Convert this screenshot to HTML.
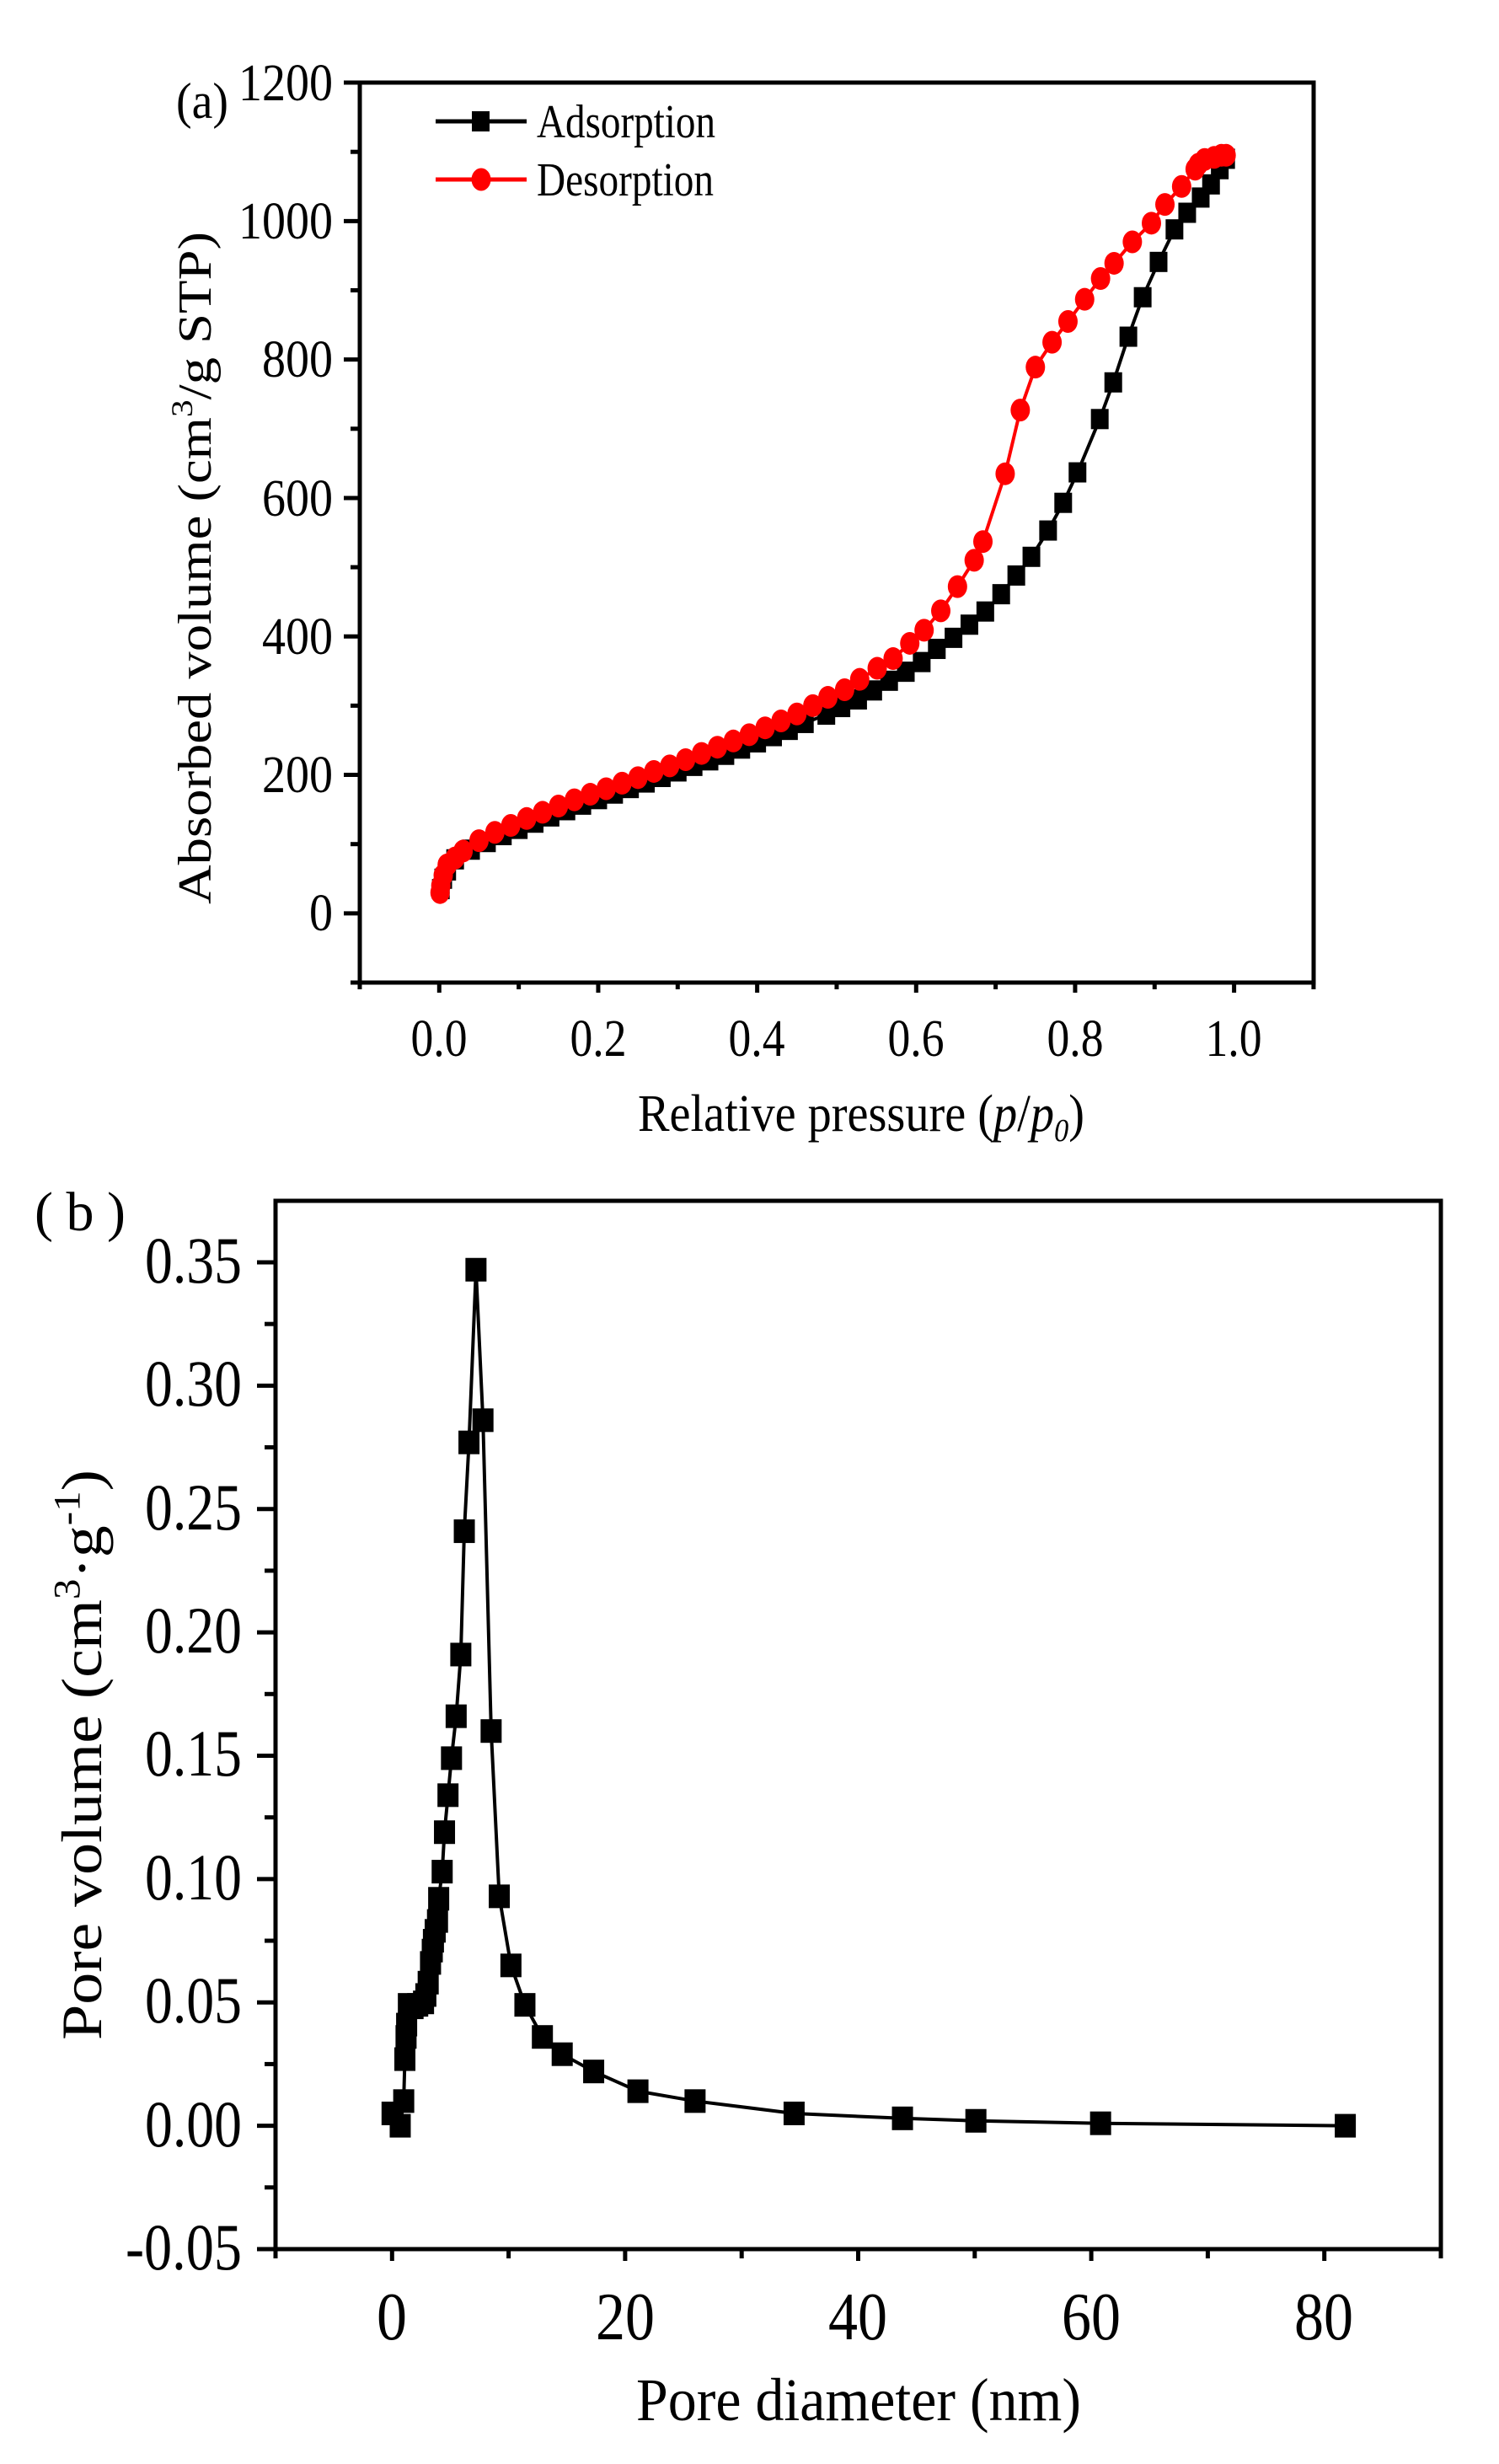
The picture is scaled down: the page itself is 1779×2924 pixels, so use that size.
<!DOCTYPE html>
<html><head><meta charset="utf-8"><style>html,body{margin:0;padding:0;background:#fff}svg{display:block}</style></head>
<body>
<svg id="s" width="1779" height="2924" viewBox="0 0 1779 2924" xmlns="http://www.w3.org/2000/svg" font-family="Liberation Serif, serif">
<rect width="1779" height="2924" fill="#fff"/>
<g id="ga"></g>
<g id="gb"></g>
<rect x="427" y="98" width="1132" height="1068" fill="none" stroke="#000" stroke-width="5"/>
<rect x="327" y="1425" width="1383" height="1244" fill="none" stroke="#000" stroke-width="5"/>
<g fill="#000">
<text x="209" y="140" font-size="60" textLength="62" lengthAdjust="spacingAndGlyphs">(a)</text>
<g font-size="62" text-anchor="end">
<text x="395" y="119" textLength="112" lengthAdjust="spacingAndGlyphs">1200</text>
<text x="395" y="283" textLength="112" lengthAdjust="spacingAndGlyphs">1000</text>
<text x="395" y="447" textLength="84" lengthAdjust="spacingAndGlyphs">800</text>
<text x="395" y="612" textLength="84" lengthAdjust="spacingAndGlyphs">600</text>
<text x="395" y="776" textLength="84" lengthAdjust="spacingAndGlyphs">400</text>
<text x="395" y="940" textLength="84" lengthAdjust="spacingAndGlyphs">200</text>
<text x="395" y="1104" textLength="28" lengthAdjust="spacingAndGlyphs">0</text>
</g>
<g font-size="62" text-anchor="middle">
<text x="521" y="1253" textLength="67" lengthAdjust="spacingAndGlyphs">0.0</text>
<text x="710" y="1253" textLength="67" lengthAdjust="spacingAndGlyphs">0.2</text>
<text x="898" y="1253" textLength="67" lengthAdjust="spacingAndGlyphs">0.4</text>
<text x="1087" y="1253" textLength="67" lengthAdjust="spacingAndGlyphs">0.6</text>
<text x="1276" y="1253" textLength="67" lengthAdjust="spacingAndGlyphs">0.8</text>
<text x="1464" y="1253" textLength="67" lengthAdjust="spacingAndGlyphs">1.0</text>
</g>
<text transform="translate(250,1073) rotate(-90)" font-size="56" textLength="798" lengthAdjust="spacingAndGlyphs">Absorbed volume (cm<tspan font-size="36" dy="-22">3</tspan><tspan dy="22">/g STP)</tspan></text>
<text x="757" y="1342" font-size="62" textLength="530" lengthAdjust="spacingAndGlyphs">Relative pressure (<tspan font-style="italic">p</tspan>/<tspan font-style="italic">p</tspan><tspan font-style="italic" font-size="38" dy="12">0</tspan><tspan dy="-12">)</tspan></text>
<text x="637" y="163" font-size="56" textLength="212" lengthAdjust="spacingAndGlyphs">Adsorption</text>
<text x="637" y="232" font-size="56" textLength="210" lengthAdjust="spacingAndGlyphs">Desorption</text>
<text x="41" y="1460" font-size="66" textLength="108" lengthAdjust="spacing">( b )</text>
<g font-size="78" text-anchor="end">
<text x="287" y="1522" textLength="115" lengthAdjust="spacingAndGlyphs">0.35</text>
<text x="287" y="1668" textLength="115" lengthAdjust="spacingAndGlyphs">0.30</text>
<text x="287" y="1815" textLength="115" lengthAdjust="spacingAndGlyphs">0.25</text>
<text x="287" y="1961" textLength="115" lengthAdjust="spacingAndGlyphs">0.20</text>
<text x="287" y="2107" textLength="115" lengthAdjust="spacingAndGlyphs">0.15</text>
<text x="287" y="2254" textLength="115" lengthAdjust="spacingAndGlyphs">0.10</text>
<text x="287" y="2400" textLength="115" lengthAdjust="spacingAndGlyphs">0.05</text>
<text x="287" y="2547" textLength="115" lengthAdjust="spacingAndGlyphs">0.00</text>
<text x="287" y="2693" textLength="138" lengthAdjust="spacingAndGlyphs">-0.05</text>
</g>
<g font-size="80" text-anchor="middle">
<text x="465" y="2776" textLength="36" lengthAdjust="spacingAndGlyphs">0</text>
<text x="742" y="2776" textLength="70" lengthAdjust="spacingAndGlyphs">20</text>
<text x="1018" y="2776" textLength="70" lengthAdjust="spacingAndGlyphs">40</text>
<text x="1295" y="2776" textLength="70" lengthAdjust="spacingAndGlyphs">60</text>
<text x="1571" y="2776" textLength="70" lengthAdjust="spacingAndGlyphs">80</text>
</g>
<text transform="translate(120,2421) rotate(-90)" font-size="68" textLength="677" lengthAdjust="spacingAndGlyphs">Pore volume (cm<tspan font-size="44" dy="-26">3</tspan><tspan dy="26">·g</tspan><tspan font-size="44" dy="-26">-1</tspan><tspan dy="26">)</tspan></text>
<text x="755" y="2872" font-size="72" textLength="528" lengthAdjust="spacingAndGlyphs">Pore diameter (nm)</text>
</g>
<line x1="517" y1="144" x2="625" y2="144" stroke="#000" stroke-width="5"/>
<rect x="560" y="132" width="21" height="24" fill="#000"/>
<line x1="517" y1="213" x2="625" y2="213" stroke="#f00" stroke-width="5"/>
<ellipse cx="571" cy="213" rx="11.5" ry="13.5" fill="#f00"/>
<script>
(function(){
var NS="http://www.w3.org/2000/svg";
function el(p,n,a){var e=document.createElementNS(NS,n);for(var k in a)e.setAttribute(k,a[k]);p.appendChild(e);return e;}
var ga=document.getElementById('ga'),gb=document.getElementById('gb');
function ax(x){return 521.3+(x)*943.3;} function ay(y){return 1166-(y+100)*0.8215;}
for(var v=-100;v<=1200;v+=100){var y=ay(v);el(ga,'line',{x1:427,x2:v%200==0?408:416,y1:y,y2:y,stroke:'#000','stroke-width':5});}
for(var i=-1;i<=11;i++){var x=ax(i/10);el(ga,'line',{x1:x,x2:x,y1:1166,y2:i%2==0?1178:1174,stroke:'#000','stroke-width':5});}
var ads=[[0.002,35],[0.005,50],[0.01,62],[0.02,78],[0.04,92],[0.06,103],[0.08,113],[0.1,122],[0.12,131],[0.14,140],[0.16,149],[0.18,157],[0.2,165],[0.22,173],[0.24,181],[0.26,189],[0.28,197],[0.3,205],[0.32,213],[0.34,221],[0.36,229],[0.38,238],[0.4,247],[0.42,256],[0.44,265],[0.46,275],[0.487,287],[0.506,298],[0.527,309],[0.546,322],[0.566,336],[0.587,349],[0.607,363],[0.626,382],[0.647,398],[0.667,417],[0.687,436],[0.707,461],[0.726,488],[0.745,515],[0.766,553],[0.785,593],[0.803,637],[0.831,714],[0.848,767],[0.867,833],[0.885,890],[0.905,941],[0.925,988],[0.941,1012],[0.958,1034],[0.971,1053],[0.982,1075],[0.99,1090]];
var des=[[0.99,1095],[0.984,1095],[0.975,1092],[0.963,1089],[0.955,1082],[0.951,1075],[0.934,1050],[0.913,1024],[0.896,997],[0.872,970],[0.849,939],[0.832,917],[0.812,887],[0.791,855],[0.771,825],[0.75,789],[0.731,727],[0.712,635],[0.684,537],[0.673,510],[0.652,472],[0.631,437],[0.61,409],[0.592,390],[0.571,368],[0.551,354],[0.529,338],[0.51,323],[0.489,312],[0.47,300],[0.45,288],[0.43,278],[0.41,268],[0.39,258],[0.37,249],[0.35,240],[0.33,231],[0.31,222],[0.29,213],[0.27,205],[0.25,196],[0.23,188],[0.21,180],[0.19,172],[0.17,164],[0.15,155],[0.13,146],[0.11,137],[0.09,127],[0.07,117],[0.05,105],[0.03,90],[0.02,80],[0.01,70],[0.005,55],[0.002,40],[0.001,30]];
function pts(d,fx,fy){return d.map(function(p){return fx(p[0]).toFixed(1)+','+fy(p[1]).toFixed(1);}).join(' ');}
el(ga,'polyline',{points:pts(ads,ax,ay),fill:'none',stroke:'#000','stroke-width':4});
ads.forEach(function(p){el(ga,'rect',{x:ax(p[0])-10.5,y:ay(p[1])-12,width:21,height:24,fill:'#000'});});
el(ga,'polyline',{points:pts(des,ax,ay),fill:'none',stroke:'#f00','stroke-width':4});
des.forEach(function(p){el(ga,'ellipse',{cx:ax(p[0]),cy:ay(p[1]),rx:11.5,ry:13.5,fill:'#f00'});});
function bx(x){return 465.3+x*13.83;} function by(y){return 2522.6-y*2927.5;}
for(var k=-2;k<=15;k++){var v2=k*0.025;var y2=by(v2);if(y2<1430)continue;el(gb,'line',{x1:327,x2:k%2==0?305:314,y1:y2,y2:y2,stroke:'#000','stroke-width':5});}
for(var j=-10;j<=90;j+=10){var x2=bx(j);el(gb,'line',{x1:x2,x2:x2,y1:2669,y2:j%20==0?2683:2680,stroke:'#000','stroke-width':5});}
var pb=[[0.0,0.005],[0.7,0.0],[1.0,0.01],[1.1,0.027],[1.2,0.036],[1.25,0.041],[1.4,0.049],[1.8,0.048],[2.2,0.049],[2.7,0.05],[2.9,0.053],[3.1,0.058],[3.3,0.066],[3.45,0.071],[3.55,0.075],[3.7,0.079],[3.9,0.083],[4.0,0.092],[4.3,0.103],[4.5,0.119],[4.8,0.134],[5.1,0.149],[5.5,0.166],[5.9,0.191],[6.2,0.241],[6.6,0.277],[7.2,0.347],[7.8,0.286],[8.5,0.16],[9.2,0.093],[10.2,0.065],[11.4,0.049],[12.9,0.036],[14.6,0.029],[17.3,0.022],[21.1,0.014],[26,0.01],[34.5,0.005],[43.8,0.003],[50.1,0.002],[60.8,0.001],[81.8,0.0]];
el(gb,'polyline',{points:pts(pb,bx,by),fill:'none',stroke:'#000','stroke-width':4});
pb.forEach(function(p){el(gb,'rect',{x:bx(p[0])-12.5,y:by(p[1])-14,width:25,height:28,fill:'#000'});});
})();
</script>
</svg>
</body></html>
